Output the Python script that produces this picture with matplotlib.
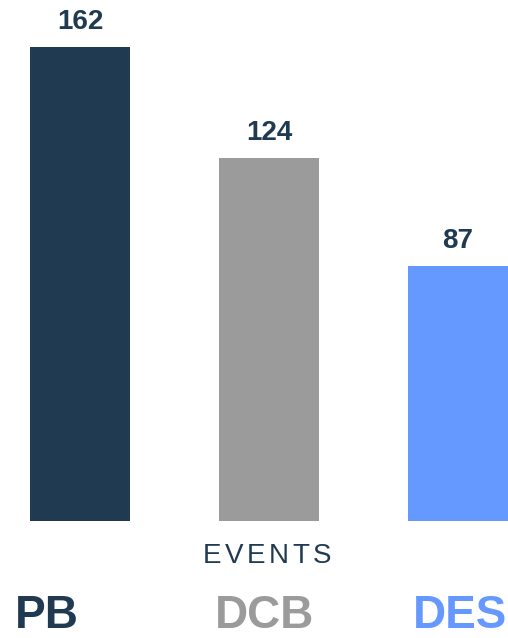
import matplotlib
matplotlib.use("Agg")
import matplotlib.pyplot as plt

plt.rcParams["font.family"] = ["Liberation Sans", "DejaVu Sans"]

categories = ["PB", "DCB", "DES"]
values = [162, 124, 87]
colors = ["#1f3a51", "#9b9b9b", "#6699ff"]
axis_title = "EVENTS"
label_color = "#1f3a51"

W, H, DPI = 508, 638, 100
fig = plt.figure(figsize=(W / DPI, H / DPI), dpi=DPI)

# plot area: left edge of first bar to right edge of last bar
left_px, right_px, bottom_px = 30, 508, 521
ax = fig.add_axes([left_px / W, 1 - bottom_px / H, (right_px - left_px) / W, bottom_px / H])

bar_w = 100 / 189
x = list(range(len(categories)))
bars = ax.bar(x, values, width=bar_w, color=colors)
ax.set_xlim(-bar_w / 2, len(categories) - 1 + bar_w / 2)
ax.set_ylim(0, 178)
ax.axis("off")

for rect, v in zip(bars, values):
    ax.annotate(str(v), (rect.get_x() + rect.get_width() / 2, v),
                xytext=(0, 12), textcoords="offset pixels",
                ha="center", va="bottom", fontsize=20, fontweight="bold",
                color=label_color)

# letter-spaced axis title
renderer = fig.canvas.get_renderer()
title_size = 20
gap = 3.5
widths = []
for ch in axis_title:
    t = fig.text(0, 0, ch, fontsize=title_size)
    widths.append(t.get_window_extent(renderer).width)
    t.remove()
total = sum(widths) + gap * (len(widths) - 1)
cx = 267 - total / 2
for ch, w in zip(axis_title, widths):
    fig.text(cx / W, 1 - 556 / H, ch, fontsize=title_size, color=label_color,
             ha="left", va="center")
    cx += w + gap

# category names under the bars
name_x = [47, 265, 460]
for name, c, px in zip(categories, colors, name_x):
    fig.text(px / W, 1 - 616 / H, name, fontsize=33, fontweight="bold",
             color=c, ha="center", va="center")

fig.savefig("out.png", dpi=DPI)
